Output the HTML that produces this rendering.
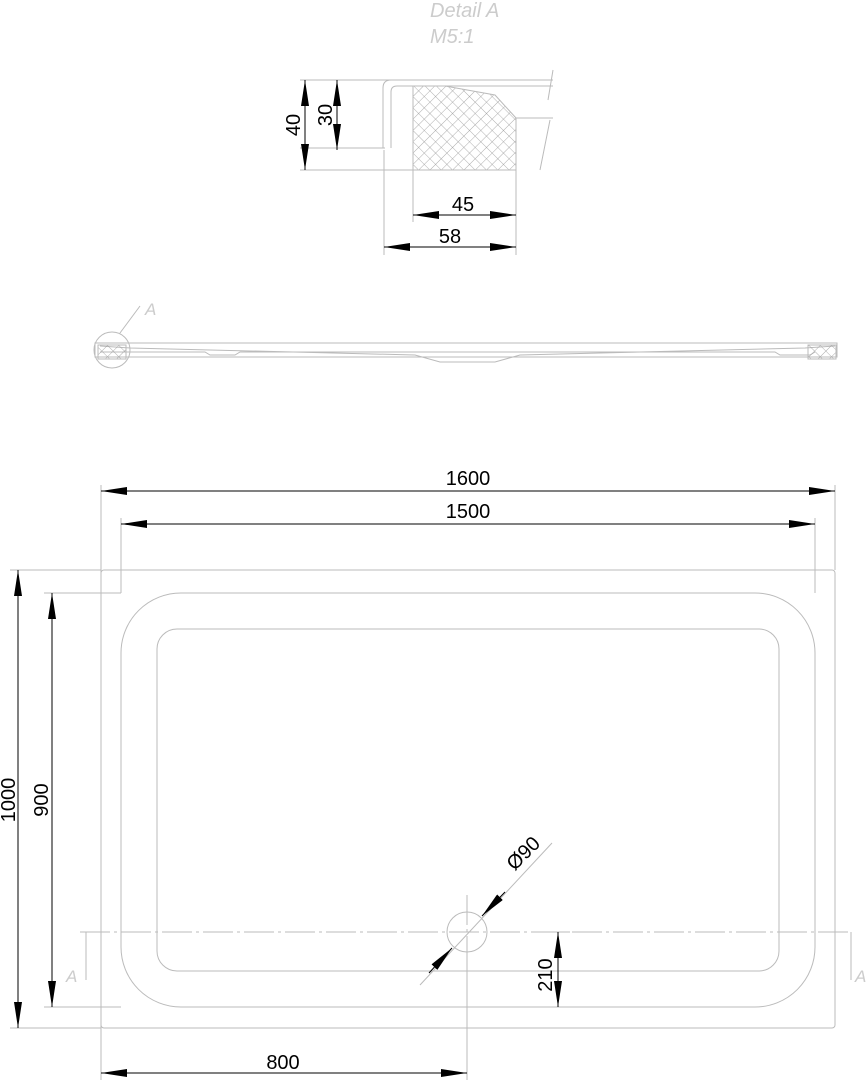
<!DOCTYPE html>
<html><head><style>html,body{margin:0;padding:0;background:#fff}svg{display:block}</style></head><body>
<svg width="868" height="1080" viewBox="0 0 868 1080" xmlns="http://www.w3.org/2000/svg" font-family="Liberation Sans, sans-serif">
<defs>
<pattern id="h" width="8" height="8" patternUnits="userSpaceOnUse" patternTransform="rotate(45)">
<path d="M0 0H8M0 0V8" stroke="#999" stroke-width="0.8"/></pattern>
<marker id="a" viewBox="0 0 26 8" refX="26" refY="4" markerWidth="26" markerHeight="8" markerUnits="userSpaceOnUse" orient="auto-start-reverse"><path d="M0 0L26 4L0 8z" fill="#000"/></marker>
</defs>
<g fill="none" stroke="#bbb" stroke-width="1">
<path d="M300 80H553M300 170H516M300 148H385"/>
<path d="M383 148V88Q383 80 391 80M391 148V92Q391 86 397 86H553M413 86H409"/>
<path d="M413 86H445L495 95L516 118V170H413Z" fill="url(#h)"/>
<path d="M516 118H553M553 70L548 100M550 120L540 170"/>
<path d="M384 150V255M516 170V255M413 170V222"/>
<path d="M95 343H837V357H95ZM100 346L130 348L415 355L440 362H495L520 355L805 348L835 346"/>
<path d="M100 352H205L210 355H235L240 352H775L780 355H810L815 352"/>
<rect x="98" y="345" width="28" height="14" fill="url(#h)"/>
<rect x="808" y="345" width="28" height="14" fill="url(#h)"/>
<circle cx="112" cy="350" r="18"/><path d="M120 333L140 306"/>
<rect x="101" y="570" width="734" height="458" rx="3"/>
<rect x="121" y="593" width="694" height="414" rx="60"/>
<rect x="157" y="629" width="622" height="342" rx="20"/>
<circle cx="467" cy="932" r="20"/>
<path d="M80 932H850M467 895V1028" stroke-dasharray="30 4 3 4"/>
<path d="M101 485V1080M835 485V570M121 518V593M815 518V593M10 570H101M10 1028H101M44 593H121M44 1007H121M467 950V1080M545 932H570M420 985L552 843"/>
<path d="M86 932V980M851 932V980"/>
</g>
<g stroke="#000" stroke-width="1" fill="none">
<path d="M305 80V170" marker-start="url(#a)" marker-end="url(#a)"/>
<path d="M337 80V150" marker-start="url(#a)" marker-end="url(#a)"/>
<path d="M413 215H516" marker-start="url(#a)" marker-end="url(#a)"/>
<path d="M384 247H516" marker-start="url(#a)" marker-end="url(#a)"/>
<path d="M101 491H835" marker-start="url(#a)" marker-end="url(#a)"/>
<path d="M121 524H815" marker-start="url(#a)" marker-end="url(#a)"/>
<path d="M18 570V1028" marker-start="url(#a)" marker-end="url(#a)"/>
<path d="M52 593V1007" marker-start="url(#a)" marker-end="url(#a)"/>
<path d="M101 1073H467" marker-start="url(#a)" marker-end="url(#a)"/>
<path d="M558 932V1007" marker-start="url(#a)" marker-end="url(#a)"/>
<path d="M505 892L482 916" marker-end="url(#a)"/>
<path d="M429 973L452 948" marker-end="url(#a)"/>
</g>
<g fill="#000" font-size="20" text-anchor="middle">
<text x="463" y="211">45</text>
<text x="450" y="243">58</text>
<text transform="translate(300 125) rotate(-90)">40</text>
<text transform="translate(332 115) rotate(-90)">30</text>
<text x="468" y="485">1600</text>
<text x="468" y="518">1500</text>
<text transform="translate(15 800) rotate(-90)">1000</text>
<text transform="translate(48 800) rotate(-90)">900</text>
<text x="283" y="1069">800</text>
<text transform="translate(552 975) rotate(-90)">210</text>
<text transform="translate(528 858) rotate(-45)">Ø90</text>
</g>
<g fill="#ccc" font-size="20" font-style="italic">
<text x="430" y="17">Detail  A</text>
<text x="430" y="43">M5:1</text>
<text x="145" y="315" font-size="17">A</text>
<text x="66" y="982" font-size="17">A</text>
<text x="855" y="982" font-size="17">A</text>
</g>
</svg>
</body></html>
